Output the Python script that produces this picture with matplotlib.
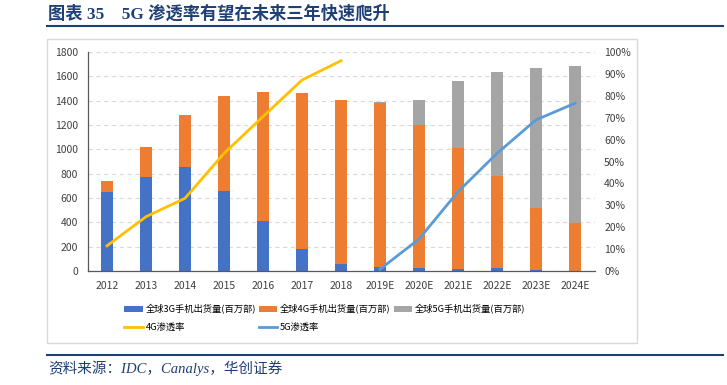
import matplotlib
matplotlib.use("Agg")
import matplotlib.pyplot as plt
from matplotlib.lines import Line2D
from matplotlib.patches import Rectangle
from matplotlib.ticker import MultipleLocator, FuncFormatter

plt.rcParams['font.family'] = ['Noto Sans CJK SC', 'DejaVu Sans']

# ====== 数据 ======
years = ['2012', '2013', '2014', '2015', '2016', '2017', '2018',
         '2019E', '2020E', '2021E', '2022E', '2023E', '2024E']
ship_3g = [652, 770, 857, 657, 414, 184, 60, 33, 25, 15, 22, 8, 3]
ship_4g = [85, 247, 425, 784, 1060, 1283, 1345, 1345, 1175, 999, 756, 512, 392]
ship_5g = [0, 0, 0, 0, 0, 0, 0, 14, 205, 548, 855, 1146, 1290]

years_4g = years[:7]
pen_4g = [11.5, 24.8, 33.2, 53.7, 70.5, 87.2, 96.0]
years_5g = years[7:]
pen_5g = [0.8, 14.6, 36.2, 53.7, 69.0, 76.6]

c3g, c4g, c5g = '#4472C4', '#ED7D31', '#A5A5A5'
cl4g, cl5g = '#FFC000', '#5B9BD5'
navy = '#1F3F77'
W, H = 727, 385

fig = plt.figure(figsize=(W / 100, H / 100), dpi=100)
ax = fig.add_axes([87.5 / W, 1 - 271 / H, 507 / W, 219 / H])

x = list(range(len(years)))
bw = 0.32
b1 = ax.bar(x, ship_3g, bw, color=c3g, zorder=2)
b2 = ax.bar(x, ship_4g, bw, bottom=ship_3g, color=c4g, zorder=2)
bottom_5g = [a + b for a, b in zip(ship_3g, ship_4g)]
b3 = ax.bar(x, ship_5g, bw, bottom=bottom_5g, color=c5g, zorder=2)

ax.set_xlim(-0.5, len(years) - 0.5)
ax.set_ylim(0, 1800)
ax.yaxis.set_major_locator(MultipleLocator(200))
ax.set_xticks(x)
ax.set_xticklabels(years)
ax.grid(axis='y', color='#D9D9D9', linestyle=(0, (4, 3)), linewidth=0.8, zorder=0)
ax.tick_params(length=0, labelsize=7.5, colors='#404040')
ax.tick_params(axis='x', pad=7)
ax.tick_params(axis='y', pad=7)
for s in ['top', 'right']:
    ax.spines[s].set_visible(False)
ax.spines['left'].set_color('#595959')
ax.spines['bottom'].set_color('#595959')
ax.spines['left'].set_linewidth(0.9)
ax.spines['bottom'].set_linewidth(0.9)

ax2 = ax.twinx()
ax2.set_ylim(0, 100)
ax2.yaxis.set_major_locator(MultipleLocator(10))
ax2.yaxis.set_major_formatter(FuncFormatter(lambda v, p: f"{v:.0f}%"))
ax2.tick_params(length=0, labelsize=7.5, colors='#404040', pad=7)
for s in ['top', 'right', 'left', 'bottom']:
    ax2.spines[s].set_visible(False)

xi4 = [years.index(y) for y in years_4g]
xi5 = [years.index(y) for y in years_5g]
l4, = ax2.plot(xi4, pen_4g, color=cl4g, lw=2)
l5, = ax2.plot(xi5, pen_5g, color=cl5g, lw=2)

# 图例：第一行柱，第二行线
handles = [b1, l4, b2, l5, b3]
labels = ['全球3G手机出货量(百万部)', '4G渗透率', '全球4G手机出货量(百万部)',
          '5G渗透率', '全球5G手机出货量(百万部)']
fig.legend(handles, labels, ncol=3, loc='upper left',
           bbox_to_anchor=(124 / W, 1 - 304 / H), frameon=False,
           fontsize=6.7, handlelength=2.0, handleheight=0.6,
           handletextpad=0.3, columnspacing=0.3, borderpad=0,
           borderaxespad=0, labelspacing=1.0)

# 标题、外框、来源
fig.text(48 / W, 1 - 14 / H, '图表 35    5G 渗透率有望在未来三年快速爬升',
         family=['Liberation Serif', 'Noto Sans CJK SC'], fontsize=12.4,
         fontweight='bold', color=navy, va='center', ha='left')
fig.add_artist(Line2D([47 / W, 723 / W], [1 - 26 / H] * 2, color=navy, lw=1.5,
                      transform=fig.transFigure))
fig.add_artist(Rectangle((47 / W, 1 - 343 / H), 590 / W, 304 / H, fill=False,
                         edgecolor='#D9D9D9', lw=1, transform=fig.transFigure))
fig.add_artist(Line2D([47 / W, 723 / W], [1 - 355 / H] * 2, color=navy, lw=1.5,
                      transform=fig.transFigure))
fig.text(48 / W, 1 - 368 / H, '资料来源：IDC，Canalys，华创证券',
         family=['Liberation Serif', 'Noto Sans CJK SC'], fontsize=10.5,
         style='italic', color=navy, va='center', ha='left')

plt.savefig("out.png", dpi=100)
